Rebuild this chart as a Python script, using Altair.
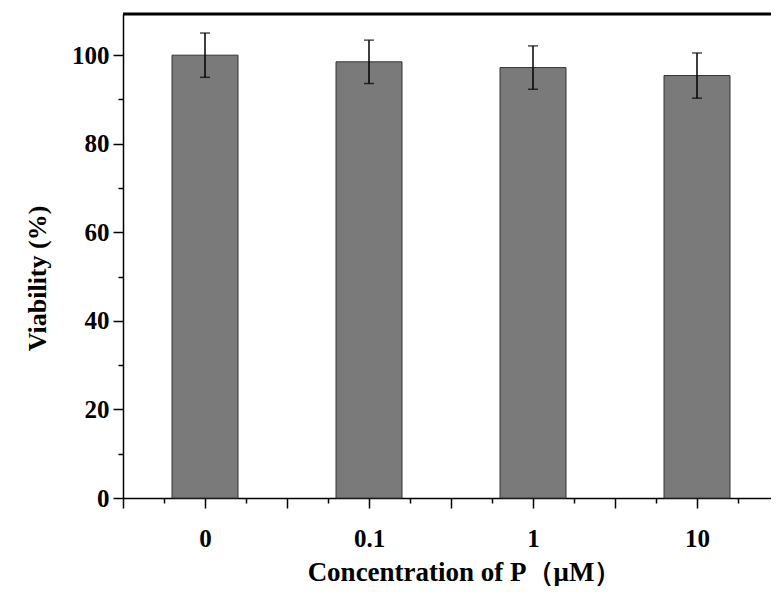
import altair as alt
import pandas as pd

categories = ["0", "0.1", "1", "10"]
viability = [100.0, 98.5, 97.2, 95.4]
errors = [5.0, 4.9, 4.9, 5.1]

y_major = [0, 20, 40, 60, 80, 100]
y_minor = [10, 30, 50, 70, 90]

n = len(categories)
pos = [i + 0.5 for i in range(n)]
df = pd.DataFrame({
    "cat": categories,
    "pos": pos,
    "viability": viability,
    "lo": [v - e for v, e in zip(viability, errors)],
    "hi": [v + e for v, e in zip(viability, errors)],
})

W, H = 648, 484
STEP = 164  # px per category (reference is cropped on the right)
x_max = W / STEP
FONT = "Liberation Serif"
x_major_vals = [i * 0.5 for i in range(2 * n + 1) if i * 0.5 <= x_max]
x_minor_vals = [i * 0.5 + 0.25 for i in range(2 * n) if i * 0.5 + 0.25 <= x_max]
label_map = "{" + ",".join(f"'{p}':'{c}'" for p, c in zip(pos, categories)) + "}"
label_expr = f"({label_map})[toString(datum.value)] || ''"

xscale = alt.Scale(domain=[0, x_max], nice=False, zero=False, padding=0)
yscale = alt.Scale(domain=[0, 109.3], nice=False, padding=0)

x_axis_major = alt.Axis(
    values=x_major_vals, labelExpr=label_expr, grid=False, tickSize=10,
    tickWidth=1.5, tickColor="black", domainColor="black", domainWidth=1.5,
    labelFont=FONT, labelFontSize=25, labelFontWeight="bold", labelColor="black",
    labelPadding=18, title="Concentration of P（μM）", titleFont=FONT,
    titleFontSize=27, titleFontWeight="bold", titleColor="black",
    titleBaseline="alphabetic", titleX=341, titleY=82, orient="bottom",
)
y_axis_major = alt.Axis(
    values=y_major, grid=False, tickSize=10, tickWidth=1.5, tickColor="black",
    domainColor="black", domainWidth=1.5, labelFont=FONT, labelFontSize=25,
    labelFontWeight="bold", labelColor="black", labelPadding=4,
    title="Viability (%)", titleFont=FONT, titleFontSize=26,
    titleFontWeight="bold", titleColor="black", titleBaseline="alphabetic",
    titleX=-78, titleY=264, orient="left",
)

bars = alt.Chart(df).mark_bar(
    orient="vertical", size=66, color="#7a7a7a", stroke="#333333", strokeWidth=1
).encode(
    x=alt.X("pos:Q", scale=xscale, axis=x_axis_major),
    y=alt.Y("viability:Q", scale=yscale, axis=y_axis_major),
)

err = alt.Chart(df).mark_rule(color="black", strokeWidth=1.5).encode(
    x=alt.X("pos:Q", scale=xscale, axis=None),
    y=alt.Y("lo:Q", scale=yscale, axis=None), y2="hi:Q"
)
cap_lo = alt.Chart(df).mark_tick(orient="horizontal", size=10, thickness=1.5, color="black").encode(
    x=alt.X("pos:Q", scale=xscale, axis=None), y=alt.Y("lo:Q", scale=yscale, axis=None)
)
cap_hi = alt.Chart(df).mark_tick(orient="horizontal", size=10, thickness=1.5, color="black").encode(
    x=alt.X("pos:Q", scale=xscale, axis=None), y=alt.Y("hi:Q", scale=yscale, axis=None)
)

# minor ticks via secondary axes
minor = alt.Chart(df).mark_point(opacity=0).encode(
    x=alt.X("pos:Q", scale=xscale, axis=alt.Axis(
        values=x_minor_vals, labels=False, domain=False, grid=False, tickSize=5,
        tickWidth=1.5, tickColor="black", title=None, orient="bottom")),
    y=alt.Y("viability:Q", scale=yscale, axis=alt.Axis(
        values=y_minor, labels=False, domain=False, grid=False, tickSize=5,
        tickWidth=1.5, tickColor="black", title=None, orient="left")),
)

top = alt.Chart(pd.DataFrame({"a": [0]})).mark_rule(color="black", strokeWidth=3).encode(
    x=alt.value(0), x2=alt.value(W), y=alt.value(0)
)

chart = alt.layer(bars, err, cap_lo, cap_hi, minor, top).resolve_axis(
    x="independent", y="independent"
).properties(
    width=W, height=H,
    autosize=alt.AutoSizeParams(type="none"),
    padding={"left": 115, "top": 6, "right": 0, "bottom": 88},
    background="white",
).configure_view(stroke=None)

chart.save("out.html", embed_options={"renderer": "svg", "actions": False})
